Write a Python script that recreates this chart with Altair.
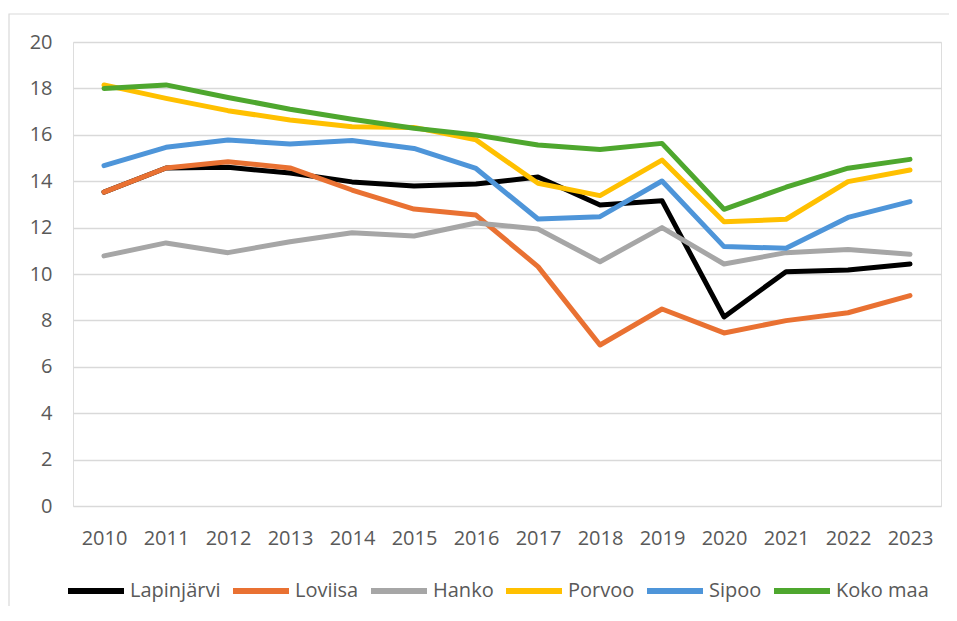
import altair as alt
import pandas as pd

years = [str(y) for y in range(2010, 2024)]
series = ["Lapinjärvi", "Loviisa", "Hanko", "Porvoo", "Sipoo", "Koko maa"]
colors = ["#000000", "#E97132", "#A6A6A6", "#FFC000", "#4E95D9", "#4EA72E"]

lapinjarvi = [13.53, 14.57, 14.6, 14.35, 13.97, 13.79, 13.88, 14.18, 12.97, 13.16, 8.15, 10.1, 10.17, 10.43]
loviisa = [13.53, 14.57, 14.84, 14.57, 13.62, 12.8, 12.54, 10.32, 6.94, 8.49, 7.46, 7.99, 8.33, 9.07]
hanko = [10.78, 11.34, 10.92, 11.39, 11.78, 11.64, 12.2, 11.94, 10.53, 12.0, 10.43, 10.92, 11.06, 10.85]
porvoo = [18.15, 17.57, 17.04, 16.64, 16.35, 16.32, 15.78, 13.91, 13.38, 14.91, 12.25, 12.36, 13.98, 14.48]
sipoo = [14.67, 15.46, 15.78, 15.6, 15.75, 15.41, 14.55, 12.37, 12.47, 14.01, 11.18, 11.11, 12.44, 13.12]
koko_maa = [18.0, 18.15, 17.61, 17.1, 16.67, 16.28, 15.99, 15.56, 15.37, 15.63, 12.79, 13.74, 14.56, 14.94]

values = [lapinjarvi, loviisa, hanko, porvoo, sipoo, koko_maa]
rows = []
for s, vals in zip(series, values):
    for y, v in zip(years, vals):
        rows.append({"Vuosi": y, "Sarja": s, "Arvo": v})
df = pd.DataFrame(rows)

FONT = "Open Sans"
TXT = "#595959"
W, H = 868, 464

border = alt.Chart(pd.DataFrame({"a": [0]})).mark_rect(
    fill="transparent", stroke="#D9D9D9", strokeWidth=1.2
).encode(
    x=alt.value(-64), x2=alt.value(W + 200), y=alt.value(-28), y2=alt.value(H + 300)
)

lines = alt.Chart(df).mark_line(strokeWidth=5, strokeCap="round", strokeJoin="round").encode(
    x=alt.X("Vuosi:O", sort=years, scale=alt.Scale(type="point", padding=0.5),
            axis=alt.Axis(title=None, labelAngle=0, labelFont=FONT, labelFontSize=20,
                          labelColor=TXT, labelPadding=22, ticks=False, domain=False, grid=False)),
    y=alt.Y("Arvo:Q", scale=alt.Scale(domain=[0, 20], nice=False),
            axis=alt.Axis(title=None, values=list(range(0, 21, 2)), labelFont=FONT, labelFontSize=20,
                          labelColor=TXT, labelPadding=21, ticks=False, domain=False,
                          gridColor="#D9D9D9", gridWidth=1.3)),
    color=alt.Color("Sarja:N", sort=series,
                    scale=alt.Scale(domain=series, range=colors),
                    legend=alt.Legend(title=None, orient="none", legendX=-8, legendY=518,
                                      direction="horizontal", symbolType="stroke",
                                      symbolSize=3136, symbolStrokeWidth=6,
                                      labelFont=FONT, labelFontSize=20, labelColor=TXT,
                                      labelOffset=3, columnPadding=0, gridAlign="each")),
    order=alt.Order("Vuosi:O")
)

chart = alt.layer(border, lines).properties(
    width=W, height=H,
    autosize=alt.AutoSizeParams(type="none"),
    padding={"left": 65, "top": 34, "right": 8, "bottom": 100},
).configure_view(stroke=None).configure(background="white")

chart.save("out.html", embed_options={"renderer": "svg", "actions": False})
